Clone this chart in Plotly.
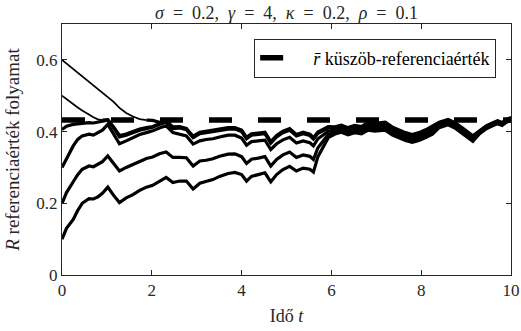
import plotly.graph_objects as go

# time grid (shared by all paths)
t = [0, 0.1, 0.25, 0.35, 0.45, 0.6, 0.7, 0.8, 0.9, 1.02,
     1.15, 1.28, 1.43, 1.58, 1.73, 1.88, 2.02, 2.17, 2.32, 2.47,
     2.62, 2.77, 2.92, 3.07, 3.21, 3.36, 3.51, 3.7, 3.85, 4.0,
     4.11, 4.22, 4.37, 4.52, 4.65, 4.78, 4.92, 5.07, 5.22, 5.37,
     5.52, 5.6, 5.7, 5.82, 5.93, 6.08, 6.22, 6.37, 6.52, 6.67,
     6.82, 6.97, 7.2, 7.35, 7.5, 7.65, 7.8, 7.95, 8.1, 8.25,
     8.4, 8.6, 8.75, 8.9, 9.05, 9.15, 9.3, 9.45, 9.6, 9.7,
     9.8, 9.9, 10.0]

R_01 = [0.10, 0.13, 0.155, 0.18, 0.20, 0.213, 0.212, 0.218, 0.228, 0.245,
        0.222, 0.202, 0.215, 0.224, 0.236, 0.245, 0.25, 0.262, 0.272, 0.258,
        0.262, 0.262, 0.24, 0.256, 0.26, 0.266, 0.275, 0.283, 0.286, 0.28,
        0.262, 0.275, 0.28, 0.285, 0.26, 0.28, 0.294, 0.303, 0.29, 0.298,
        0.295, 0.287, 0.33, 0.36, 0.383, 0.393, 0.398, 0.391, 0.397, 0.394,
        0.404, 0.401, 0.404, 0.391, 0.382, 0.375, 0.37, 0.375, 0.383, 0.393,
        0.411, 0.419, 0.41, 0.397, 0.384, 0.373, 0.394, 0.408, 0.417, 0.422,
        0.417, 0.426, 0.431]

R_02 = [0.20, 0.23, 0.26, 0.28, 0.295, 0.304, 0.302, 0.308, 0.316, 0.332,
        0.31, 0.29, 0.30, 0.309, 0.318, 0.325, 0.329, 0.338, 0.343, 0.328,
        0.328, 0.327, 0.304, 0.318, 0.32, 0.324, 0.331, 0.337, 0.338, 0.33,
        0.311, 0.323, 0.326, 0.33, 0.304, 0.322, 0.335, 0.343, 0.328, 0.335,
        0.331, 0.322, 0.355, 0.375, 0.392, 0.398, 0.403, 0.396, 0.402, 0.399,
        0.41, 0.407, 0.41, 0.397, 0.388, 0.381, 0.376, 0.381, 0.389, 0.399,
        0.415, 0.423, 0.414, 0.401, 0.388, 0.377, 0.396, 0.41, 0.419, 0.424,
        0.419, 0.428, 0.433]

R_03 = [0.30, 0.325, 0.36, 0.378, 0.388, 0.393, 0.39, 0.397, 0.404, 0.42,
        0.395, 0.366, 0.374, 0.383, 0.392, 0.397, 0.402, 0.41, 0.416, 0.397,
        0.392, 0.388, 0.365, 0.374, 0.378, 0.38, 0.385, 0.39, 0.39, 0.382,
        0.362, 0.372, 0.374, 0.376, 0.35, 0.366, 0.377, 0.384, 0.368, 0.374,
        0.369, 0.36, 0.38, 0.392, 0.401, 0.403, 0.408, 0.401, 0.407, 0.404,
        0.415, 0.412, 0.415, 0.402, 0.393, 0.386, 0.381, 0.386, 0.394, 0.404,
        0.419, 0.427, 0.418, 0.405, 0.392, 0.381, 0.398, 0.412, 0.421, 0.426,
        0.421, 0.43, 0.435]

R_04 = [0.406, 0.415, 0.42, 0.422, 0.424, 0.425, 0.424, 0.427, 0.43, 0.432,
        0.41, 0.385, 0.39, 0.397, 0.404, 0.408, 0.412, 0.42, 0.426, 0.408,
        0.41, 0.405, 0.383, 0.394, 0.397, 0.398, 0.403, 0.407, 0.407, 0.4,
        0.38, 0.39, 0.392, 0.394, 0.368, 0.385, 0.397, 0.404, 0.388, 0.394,
        0.389, 0.379, 0.395, 0.404, 0.41, 0.408, 0.413, 0.406, 0.412, 0.409,
        0.42, 0.417, 0.42, 0.407, 0.398, 0.391, 0.386, 0.391, 0.399, 0.409,
        0.422, 0.43, 0.421, 0.408, 0.395, 0.384, 0.4, 0.414, 0.423, 0.428,
        0.423, 0.432, 0.437]

R_05 = [0.50, 0.49, 0.475, 0.467, 0.459, 0.447, 0.44, 0.434, 0.432, 0.433,
        0.413, 0.389, 0.393, 0.4, 0.407, 0.411, 0.414, 0.422, 0.428, 0.41,
        0.412, 0.407, 0.385, 0.396, 0.399, 0.4, 0.405, 0.409, 0.409, 0.402,
        0.382, 0.392, 0.394, 0.396, 0.37, 0.387, 0.399, 0.406, 0.39, 0.396,
        0.391, 0.381, 0.397, 0.406, 0.412, 0.411, 0.416, 0.409, 0.415, 0.412,
        0.424, 0.421, 0.424, 0.411, 0.402, 0.395, 0.39, 0.395, 0.403, 0.413,
        0.424, 0.432, 0.423, 0.41, 0.397, 0.386, 0.401, 0.415, 0.424, 0.429,
        0.424, 0.433, 0.438]

R_06 = [0.60, 0.59, 0.575, 0.565, 0.555, 0.54, 0.53, 0.52, 0.51, 0.498,
        0.483, 0.466, 0.452, 0.442, 0.435, 0.432, 0.431, 0.426, 0.43, 0.413,
        0.414, 0.409, 0.387, 0.398, 0.401, 0.402, 0.407, 0.411, 0.411, 0.404,
        0.384, 0.394, 0.396, 0.398, 0.372, 0.389, 0.401, 0.408, 0.392, 0.398,
        0.393, 0.383, 0.399, 0.408, 0.414, 0.413, 0.418, 0.411, 0.417, 0.414,
        0.426, 0.423, 0.426, 0.413, 0.404, 0.397, 0.392, 0.397, 0.405, 0.415,
        0.426, 0.434, 0.425, 0.412, 0.399, 0.388, 0.402, 0.416, 0.425, 0.43,
        0.425, 0.434, 0.439]

r_bar = 0.432
paths = [R_01, R_02, R_03, R_04, R_05, R_06]
# index up to which a path is still a smooth (noise-free) descent above r_bar
smooth_until = [0, 0, 0, 0, 8, 15]

title_txt = ("<i>σ</i>\u2002=\u20020.2,\u00a0 <i>γ</i>\u2002=\u20024,\u00a0 "
             "<i>κ</i>\u2002=\u20020.2,\u00a0 <i>ρ</i>\u2002=\u20020.1")
xlabel = "Idő <i>t</i>"
ylabel = "<i>R</i> referenciaérték folyamat"
legend_txt = "\u2003<i>r̄</i> küszöb-referenciaérték"
xticks = [0, 2, 4, 6, 8, 10]
yticks = [0, 0.2, 0.4, 0.6]
yticklabels = ["0", "0.2", "0.4", "0.6"]

FONT = "Liberation Serif, Times New Roman, serif"
TXT = "#262626"
fig = go.Figure()
for p, s in zip(paths, smooth_until):
    if s > 0:
        fig.add_trace(go.Scatter(x=t[:s + 1], y=p[:s + 1], mode="lines", showlegend=False,
                                 line=dict(color="black", width=1.8), hoverinfo="skip"))
    fig.add_trace(go.Scatter(x=t[s:], y=p[s:], mode="lines", showlegend=False,
                             line=dict(color="black", width=3.2), hoverinfo="skip"))
fig.add_trace(go.Scatter(x=[t[0], t[-1]], y=[r_bar, r_bar], mode="lines",
                         name=legend_txt,
                         line=dict(color="black", width=5.5, dash="23px,26px")))

axis_common = dict(showline=True, mirror="ticks", ticks="inside", ticklen=5,
                   linecolor=TXT, linewidth=1, tickcolor=TXT,
                   showgrid=False, zeroline=False, automargin=False,
                   tickfont=dict(family=FONT, size=17, color=TXT))
fig.update_xaxes(range=[0, 10], tickvals=xticks,
                 title=dict(text=xlabel, font=dict(family=FONT, size=18, color=TXT), standoff=9),
                 **axis_common)
fig.update_yaxes(range=[0, 0.7], tickvals=yticks, ticktext=yticklabels,
                 title=dict(text=ylabel, font=dict(family=FONT, size=19, color=TXT), standoff=11),
                 **axis_common)
fig.update_layout(
    width=521, height=331,
    margin=dict(l=62, r=10, t=24, b=56, autoexpand=False),
    plot_bgcolor="white", paper_bgcolor="white",
    hovermode=False,
    title=dict(text=title_txt, xref="paper", x=0.5, xanchor="center",
               yref="container", y=0.963, yanchor="middle",
               font=dict(family=FONT, size=18, color=TXT)),
    legend=dict(x=0.967, xanchor="right", y=0.942, yanchor="top",
                bgcolor="white", bordercolor=TXT, borderwidth=1,
                font=dict(family=FONT, size=18, color="black"),
                itemwidth=30, tracegroupgap=0),
)
fig.write_html("out.html", config={"displayModeBar": False, "staticPlot": True})

# remove the browser's default 8px body margin so the figure sits at (0, 0)
with open("out.html", "r", encoding="utf-8") as f:
    html = f.read()
html = html.replace("<body>", '<body style="margin:0;padding:0;overflow:hidden">', 1)
with open("out.html", "w", encoding="utf-8") as f:
    f.write(html)
